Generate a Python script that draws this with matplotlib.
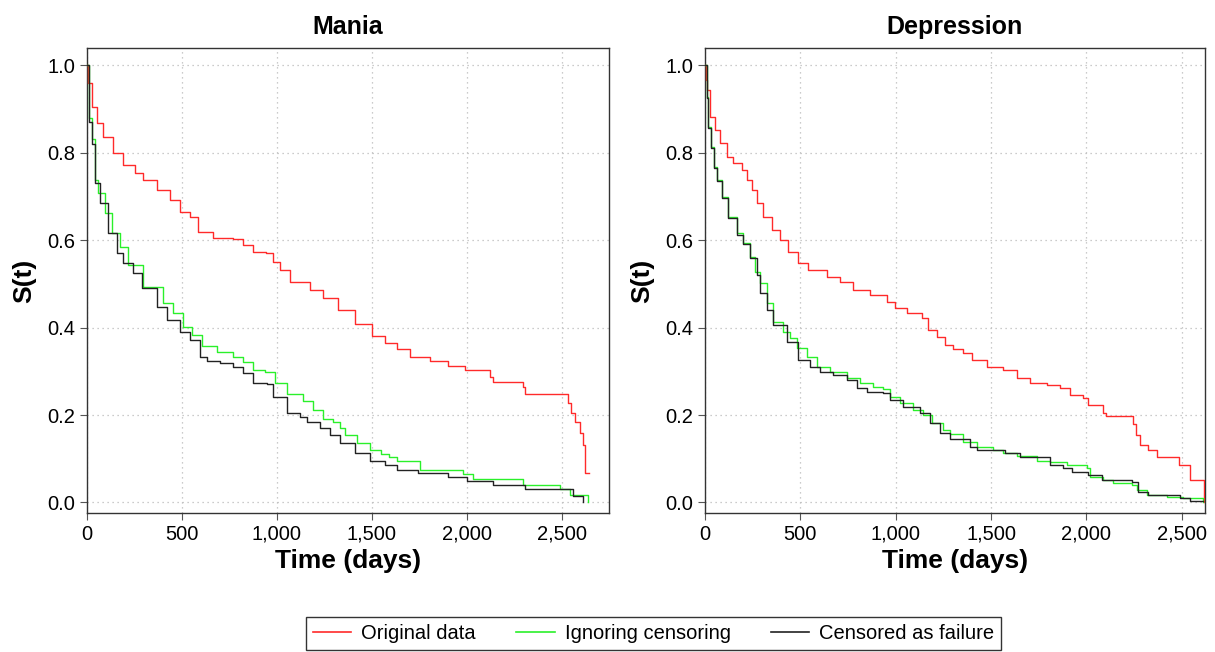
import matplotlib
matplotlib.use("Agg")
import matplotlib.pyplot as plt
from matplotlib.ticker import FuncFormatter
from matplotlib.lines import Line2D

plt.rcParams["font.family"] = ["Liberation Sans", "DejaVu Sans"]

# ---- data (days, survival) ----
mania_orig_t = [0, 5, 27, 53, 84, 137, 190, 252, 295, 368, 437, 490, 542, 585, 663,
                769, 821, 874, 942, 979, 1016, 1068, 1174, 1242, 1322, 1411, 1500,
                1569, 1632, 1701, 1806, 1901, 1990, 2122, 2138, 2296, 2307, 2532,
                2548, 2569, 2596, 2610, 2621, 2643]
mania_orig_s = [1.0, 0.96, 0.905, 0.868, 0.836, 0.80, 0.772, 0.753, 0.737, 0.715,
                0.692, 0.664, 0.653, 0.619, 0.605, 0.603, 0.589, 0.573, 0.571, 0.55,
                0.532, 0.505, 0.486, 0.468, 0.441, 0.409, 0.381, 0.365, 0.352, 0.333,
                0.324, 0.313, 0.304, 0.288, 0.276, 0.265, 0.247, 0.228, 0.205, 0.183,
                0.16, 0.132, 0.068, 0.068]

mania_ign_t = [0, 11, 27, 42, 58, 94, 131, 174, 215, 295, 400, 453, 505, 553, 606,
               684, 769, 821, 874, 937, 990, 1053, 1137, 1190, 1242, 1295, 1330, 1360,
               1421, 1490, 1550, 1590, 1632, 1754, 1980, 2033, 2296, 2490, 2543, 2637]
mania_ign_s = [1.0, 0.88, 0.83, 0.737, 0.708, 0.662, 0.616, 0.584, 0.543, 0.493,
               0.457, 0.434, 0.402, 0.384, 0.357, 0.345, 0.333, 0.322, 0.304, 0.299,
               0.274, 0.247, 0.231, 0.212, 0.19, 0.183, 0.17, 0.155, 0.137, 0.119,
               0.111, 0.105, 0.094, 0.075, 0.064, 0.053, 0.041, 0.03, 0.018, 0.0]

mania_cens_t = [0, 11, 27, 42, 69, 110, 158, 190, 242, 290, 368, 421, 490, 542, 595,
                632, 700, 769, 821, 874, 947, 979, 1053, 1121, 1158, 1226, 1279, 1332,
                1411, 1490, 1570, 1632, 1744, 1901, 2001, 2138, 2307, 2559, 2612]
mania_cens_s = [1.0, 0.87, 0.82, 0.73, 0.685, 0.616, 0.571, 0.548, 0.525, 0.49,
                0.447, 0.418, 0.39, 0.372, 0.333, 0.324, 0.32, 0.31, 0.297, 0.274,
                0.27, 0.242, 0.205, 0.196, 0.183, 0.171, 0.155, 0.135, 0.114, 0.094,
                0.085, 0.075, 0.068, 0.059, 0.05, 0.041, 0.03, 0.014, 0.0]

dep_orig_t = [0, 8, 13, 29, 55, 81, 118, 149, 196, 223, 249, 275, 306, 353, 395, 437,
              490, 540, 641, 709, 778, 866, 955, 997, 1060, 1139, 1170, 1217, 1259,
              1300, 1353, 1401, 1479, 1563, 1636, 1704, 1793, 1861, 1914, 1982, 2008,
              2087, 2100, 2245, 2262, 2280, 2322, 2369, 2484, 2542, 2615]
dep_orig_s = [1.0, 0.966, 0.943, 0.881, 0.851, 0.822, 0.79, 0.776, 0.76, 0.737, 0.714,
              0.685, 0.653, 0.623, 0.6, 0.573, 0.547, 0.531, 0.516, 0.504, 0.486,
              0.474, 0.458, 0.445, 0.433, 0.422, 0.394, 0.379, 0.36, 0.35, 0.341,
              0.326, 0.31, 0.303, 0.285, 0.273, 0.269, 0.262, 0.246, 0.239, 0.223,
              0.205, 0.198, 0.18, 0.155, 0.131, 0.12, 0.104, 0.086, 0.051, 0.0]

dep_ign_t = [0, 13, 18, 34, 45, 65, 92, 123, 170, 202, 238, 265, 291, 327, 359, 411,
             448, 484, 537, 589, 657, 746, 814, 882, 934, 971, 1023, 1092, 1144, 1191,
             1249, 1285, 1353, 1427, 1510, 1563, 1636, 1741, 1809, 1898, 2003, 2019,
             2087, 2140, 2238, 2264, 2317, 2421, 2505, 2610]
dep_ign_s = [1.0, 0.927, 0.858, 0.813, 0.767, 0.737, 0.698, 0.653, 0.616, 0.593,
             0.562, 0.527, 0.502, 0.456, 0.413, 0.39, 0.376, 0.353, 0.333, 0.31,
             0.298, 0.284, 0.273, 0.264, 0.259, 0.241, 0.227, 0.211, 0.2, 0.182,
             0.166, 0.156, 0.138, 0.127, 0.12, 0.113, 0.106, 0.095, 0.093, 0.086,
             0.079, 0.058, 0.051, 0.045, 0.04, 0.029, 0.017, 0.013, 0.01, 0.001]

dep_cens_t = [0, 13, 18, 34, 45, 65, 92, 123, 170, 202, 238, 275, 291, 327, 359, 432,
              490, 552, 605, 673, 746, 798, 851, 934, 971, 1040, 1128, 1181, 1233,
              1285, 1390, 1427, 1573, 1652, 1809, 1877, 1924, 2008, 2082, 2238, 2270,
              2322, 2490, 2542, 2610]
dep_cens_s = [1.0, 0.925, 0.855, 0.81, 0.765, 0.735, 0.695, 0.65, 0.612, 0.59, 0.558,
              0.52, 0.479, 0.44, 0.406, 0.367, 0.326, 0.31, 0.298, 0.291, 0.28, 0.262,
              0.253, 0.25, 0.234, 0.218, 0.205, 0.182, 0.159, 0.145, 0.127, 0.12,
              0.113, 0.104, 0.086, 0.079, 0.07, 0.063, 0.051, 0.047, 0.024, 0.017,
              0.01, 0.003, 0.003]

series_labels = ["Original data", "Ignoring censoring", "Censored as failure"]
series_colors = ["#ff2a2a", "#2af02a", "#222222"]

fig = plt.figure(figsize=(12.15, 6.52), dpi=100)
ax1 = fig.add_axes([0.0716, 0.2132, 0.4296, 0.7132])
ax2 = fig.add_axes([0.5802, 0.2132, 0.4115, 0.7132])

panels = [
    (ax1, "Mania", 2749, [(mania_orig_t, mania_orig_s), (mania_ign_t, mania_ign_s),
                          (mania_cens_t, mania_cens_s)]),
    (ax2, "Depression", 2621, [(dep_orig_t, dep_orig_s), (dep_ign_t, dep_ign_s),
                               (dep_cens_t, dep_cens_s)]),
]

for ax, title, xmax, curves in panels:
    for (t, s), col in zip(curves, series_colors):
        ax.step(t, s, where="post", color=col, linewidth=1.0, zorder=3)
    ax.set_xlim(0, xmax)
    ax.set_ylim(-0.024, 1.039)
    ax.set_xticks([0, 500, 1000, 1500, 2000, 2500])
    ax.set_yticks([0.0, 0.2, 0.4, 0.6, 0.8, 1.0])
    ax.xaxis.set_major_formatter(FuncFormatter(lambda v, p: f"{int(v):,}"))
    ax.yaxis.set_major_formatter(FuncFormatter(lambda v, p: f"{v:.1f}"))
    ax.tick_params(labelsize=14.5, length=5, width=0.8, color="#555555")
    ax.grid(True, linestyle=(0, (1, 3)), color="#bbbbbb", linewidth=0.9, zorder=0)
    for sp in ax.spines.values():
        sp.set_color("#333333")
        sp.set_linewidth(1.0)
    ax.set_title(title, fontsize=18, fontweight="bold", pad=10)
    ax.set_xlabel("Time (days)", fontsize=19, fontweight="bold", labelpad=4)
    ax.set_ylabel("S(t)", fontsize=19, fontweight="bold", labelpad=8)

handles = [Line2D([], [], color=c, linewidth=1.2) for c in series_colors]
leg = fig.legend(handles, series_labels, loc="lower center", ncol=3,
                 bbox_to_anchor=(0.538, -0.012), fontsize=14.5, frameon=True,
                 fancybox=False, edgecolor="black", handlelength=1.9,
                 columnspacing=2.0, handletextpad=0.5, borderpad=0.35)
leg.get_frame().set_linewidth(1.0)

fig.savefig("out.png", dpi=100)
